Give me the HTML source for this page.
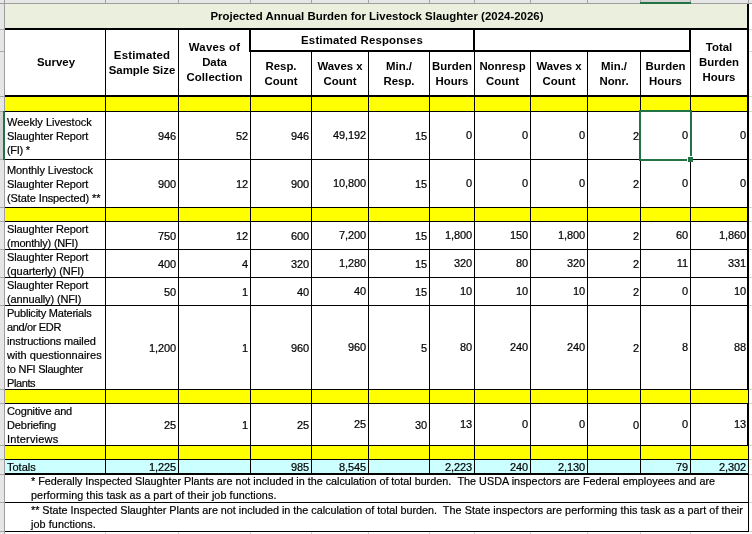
<!DOCTYPE html>
<html><head><meta charset="utf-8"><title>Projected Annual Burden for Livestock Slaughter</title><style>
*{margin:0;padding:0;box-sizing:border-box}
html,body{width:752px;height:534px;overflow:hidden;background:#fff}
body{position:relative;-webkit-text-stroke:0.2px #000;font-family:"Liberation Sans",Arial,sans-serif;color:#000}
.r{position:absolute}
.t{position:absolute;display:flex;white-space:nowrap;overflow:visible}
.hb{-webkit-text-stroke:0;font-weight:bold;font-size:11.4px;line-height:15px}
.d{font-size:11px;line-height:14px}
.n{letter-spacing:-0.12px}
.f{font-size:10.8px;line-height:14px}
.s{position:absolute;white-space:nowrap;height:14px}
</style></head>
<body>
<div class="r" style="left:0px;top:0px;width:752px;height:3px;background:#e6e6e6;"></div>
<div class="r" style="left:0px;top:3px;width:752px;height:1px;background:#9e9e9e;"></div>
<div class="r" style="left:4px;top:0px;width:1px;height:3px;background:#a2a2a2;"></div>
<div class="r" style="left:105px;top:0px;width:1px;height:3px;background:#a2a2a2;"></div>
<div class="r" style="left:178px;top:0px;width:1px;height:3px;background:#a2a2a2;"></div>
<div class="r" style="left:250px;top:0px;width:1px;height:3px;background:#a2a2a2;"></div>
<div class="r" style="left:311px;top:0px;width:1px;height:3px;background:#a2a2a2;"></div>
<div class="r" style="left:368px;top:0px;width:1px;height:3px;background:#a2a2a2;"></div>
<div class="r" style="left:429px;top:0px;width:1px;height:3px;background:#a2a2a2;"></div>
<div class="r" style="left:474px;top:0px;width:1px;height:3px;background:#a2a2a2;"></div>
<div class="r" style="left:530px;top:0px;width:1px;height:3px;background:#a2a2a2;"></div>
<div class="r" style="left:587px;top:0px;width:1px;height:3px;background:#a2a2a2;"></div>
<div class="r" style="left:640px;top:0px;width:1px;height:3px;background:#a2a2a2;"></div>
<div class="r" style="left:690px;top:0px;width:1px;height:3px;background:#a2a2a2;"></div>
<div class="r" style="left:748px;top:0px;width:1px;height:3px;background:#a2a2a2;"></div>
<div class="r" style="left:641px;top:0px;width:49px;height:2px;background:#d2d2d2;"></div>
<div class="r" style="left:640px;top:2px;width:51px;height:2px;background:#217346;"></div>
<div class="r" style="left:0px;top:4px;width:4px;height:530px;background:#e6e6e6;"></div>
<div class="r" style="left:4px;top:0px;width:1px;height:534px;background:#9e9e9e;"></div>
<div class="r" style="left:0px;top:29px;width:4px;height:1px;background:#a8a8a8;"></div>
<div class="r" style="left:0px;top:51px;width:4px;height:1px;background:#a8a8a8;"></div>
<div class="r" style="left:0px;top:96px;width:4px;height:1px;background:#a8a8a8;"></div>
<div class="r" style="left:0px;top:111px;width:4px;height:1px;background:#a8a8a8;"></div>
<div class="r" style="left:0px;top:159px;width:4px;height:1px;background:#a8a8a8;"></div>
<div class="r" style="left:0px;top:207px;width:4px;height:1px;background:#a8a8a8;"></div>
<div class="r" style="left:0px;top:221px;width:4px;height:1px;background:#a8a8a8;"></div>
<div class="r" style="left:0px;top:249px;width:4px;height:1px;background:#a8a8a8;"></div>
<div class="r" style="left:0px;top:277px;width:4px;height:1px;background:#a8a8a8;"></div>
<div class="r" style="left:0px;top:305px;width:4px;height:1px;background:#a8a8a8;"></div>
<div class="r" style="left:0px;top:389px;width:4px;height:1px;background:#a8a8a8;"></div>
<div class="r" style="left:0px;top:403px;width:4px;height:1px;background:#a8a8a8;"></div>
<div class="r" style="left:0px;top:445px;width:4px;height:1px;background:#a8a8a8;"></div>
<div class="r" style="left:0px;top:459px;width:4px;height:1px;background:#a8a8a8;"></div>
<div class="r" style="left:0px;top:474px;width:4px;height:1px;background:#a8a8a8;"></div>
<div class="r" style="left:0px;top:502px;width:4px;height:1px;background:#a8a8a8;"></div>
<div class="r" style="left:0px;top:531px;width:4px;height:1px;background:#a8a8a8;"></div>
<div class="r" style="left:0px;top:112px;width:3px;height:47px;background:#d2d2d2;"></div>
<div class="r" style="left:3px;top:111px;width:2px;height:49px;background:#217346;"></div>
<div class="r" style="left:749px;top:29px;width:3px;height:1px;background:#d4d4d4;"></div>
<div class="r" style="left:749px;top:51px;width:3px;height:1px;background:#d4d4d4;"></div>
<div class="r" style="left:749px;top:96px;width:3px;height:1px;background:#d4d4d4;"></div>
<div class="r" style="left:749px;top:111px;width:3px;height:1px;background:#d4d4d4;"></div>
<div class="r" style="left:749px;top:159px;width:3px;height:1px;background:#d4d4d4;"></div>
<div class="r" style="left:749px;top:207px;width:3px;height:1px;background:#d4d4d4;"></div>
<div class="r" style="left:749px;top:221px;width:3px;height:1px;background:#d4d4d4;"></div>
<div class="r" style="left:749px;top:249px;width:3px;height:1px;background:#d4d4d4;"></div>
<div class="r" style="left:749px;top:277px;width:3px;height:1px;background:#d4d4d4;"></div>
<div class="r" style="left:749px;top:305px;width:3px;height:1px;background:#d4d4d4;"></div>
<div class="r" style="left:749px;top:389px;width:3px;height:1px;background:#d4d4d4;"></div>
<div class="r" style="left:749px;top:403px;width:3px;height:1px;background:#d4d4d4;"></div>
<div class="r" style="left:749px;top:445px;width:3px;height:1px;background:#d4d4d4;"></div>
<div class="r" style="left:749px;top:459px;width:3px;height:1px;background:#d4d4d4;"></div>
<div class="r" style="left:749px;top:474px;width:3px;height:1px;background:#d4d4d4;"></div>
<div class="r" style="left:749px;top:502px;width:3px;height:1px;background:#d4d4d4;"></div>
<div class="r" style="left:749px;top:531px;width:3px;height:1px;background:#d4d4d4;"></div>
<div class="r" style="left:105px;top:532px;width:1px;height:2px;background:#d4d4d4;"></div>
<div class="r" style="left:178px;top:532px;width:1px;height:2px;background:#d4d4d4;"></div>
<div class="r" style="left:250px;top:532px;width:1px;height:2px;background:#d4d4d4;"></div>
<div class="r" style="left:311px;top:532px;width:1px;height:2px;background:#d4d4d4;"></div>
<div class="r" style="left:368px;top:532px;width:1px;height:2px;background:#d4d4d4;"></div>
<div class="r" style="left:429px;top:532px;width:1px;height:2px;background:#d4d4d4;"></div>
<div class="r" style="left:474px;top:532px;width:1px;height:2px;background:#d4d4d4;"></div>
<div class="r" style="left:530px;top:532px;width:1px;height:2px;background:#d4d4d4;"></div>
<div class="r" style="left:587px;top:532px;width:1px;height:2px;background:#d4d4d4;"></div>
<div class="r" style="left:640px;top:532px;width:1px;height:2px;background:#d4d4d4;"></div>
<div class="r" style="left:690px;top:532px;width:1px;height:2px;background:#d4d4d4;"></div>
<div class="r" style="left:5px;top:4px;width:742px;height:24px;background:#ebefdd;"></div>
<div class="t hb" style="left:6px;top:4px;width:742px;height:24px;justify-content:center;align-items:center;text-align:center;"><span><span style="letter-spacing:0.03px">Projected Annual Burden for Livestock Slaughter (2024-2026)</span></span></div>
<div class="r" style="left:5px;top:97px;width:742px;height:14px;background:#ffff00;"></div>
<div class="r" style="left:5px;top:208px;width:742px;height:13px;background:#ffff00;"></div>
<div class="r" style="left:5px;top:390px;width:743px;height:13px;background:#ffff00;"></div>
<div class="r" style="left:5px;top:446px;width:743px;height:13px;background:#ffff00;"></div>
<div class="r" style="left:5px;top:460px;width:743px;height:13px;background:#ccffff;"></div>
<div class="r" style="left:5px;top:28px;width:744px;height:2px;background:#000;"></div>
<div class="r" style="left:249px;top:50px;width:442px;height:2px;background:#000;"></div>
<div class="r" style="left:5px;top:95px;width:744px;height:2px;background:#000;"></div>
<div class="r" style="left:5px;top:111px;width:743px;height:1px;background:#000;"></div>
<div class="r" style="left:5px;top:159px;width:743px;height:1px;background:#000;"></div>
<div class="r" style="left:5px;top:207px;width:743px;height:1px;background:#000;"></div>
<div class="r" style="left:5px;top:221px;width:743px;height:1px;background:#000;"></div>
<div class="r" style="left:5px;top:249px;width:743px;height:1px;background:#000;"></div>
<div class="r" style="left:5px;top:277px;width:743px;height:1px;background:#000;"></div>
<div class="r" style="left:5px;top:305px;width:743px;height:1px;background:#000;"></div>
<div class="r" style="left:5px;top:389px;width:743px;height:1px;background:#000;"></div>
<div class="r" style="left:5px;top:403px;width:743px;height:1px;background:#000;"></div>
<div class="r" style="left:5px;top:445px;width:743px;height:1px;background:#000;"></div>
<div class="r" style="left:5px;top:459px;width:743px;height:1px;background:#000;"></div>
<div class="r" style="left:5px;top:473px;width:744px;height:2px;background:#000;"></div>
<div class="r" style="left:5px;top:502px;width:744px;height:1px;background:#000;"></div>
<div class="r" style="left:5px;top:531px;width:744px;height:1px;background:#000;"></div>
<div class="r" style="left:747px;top:4px;width:2px;height:386px;background:#000;"></div>
<div class="r" style="left:748px;top:390px;width:1px;height:13px;background:#000;"></div>
<div class="r" style="left:747px;top:403px;width:2px;height:43px;background:#000;"></div>
<div class="r" style="left:748px;top:446px;width:1px;height:86px;background:#000;"></div>
<div class="r" style="left:747px;top:459px;width:1px;height:1px;background:#000;"></div>
<div class="r" style="left:105px;top:30px;width:1px;height:65px;background:#000;"></div>
<div class="r" style="left:178px;top:30px;width:1px;height:65px;background:#000;"></div>
<div class="r" style="left:249px;top:30px;width:2px;height:21px;background:#000;"></div>
<div class="r" style="left:250px;top:52px;width:1px;height:43px;background:#000;"></div>
<div class="r" style="left:311px;top:52px;width:1px;height:43px;background:#000;"></div>
<div class="r" style="left:368px;top:52px;width:1px;height:43px;background:#000;"></div>
<div class="r" style="left:429px;top:52px;width:1px;height:43px;background:#000;"></div>
<div class="r" style="left:530px;top:52px;width:1px;height:43px;background:#000;"></div>
<div class="r" style="left:587px;top:52px;width:1px;height:43px;background:#000;"></div>
<div class="r" style="left:640px;top:52px;width:1px;height:43px;background:#000;"></div>
<div class="r" style="left:473px;top:30px;width:2px;height:21px;background:#000;"></div>
<div class="r" style="left:474px;top:52px;width:1px;height:43px;background:#000;"></div>
<div class="r" style="left:689px;top:30px;width:2px;height:21px;background:#000;"></div>
<div class="r" style="left:690px;top:52px;width:1px;height:43px;background:#000;"></div>
<div class="r" style="left:105px;top:97px;width:1px;height:362px;background:#000;"></div>
<div class="r" style="left:178px;top:97px;width:1px;height:362px;background:#000;"></div>
<div class="r" style="left:250px;top:97px;width:1px;height:362px;background:#000;"></div>
<div class="r" style="left:311px;top:97px;width:1px;height:362px;background:#000;"></div>
<div class="r" style="left:368px;top:97px;width:1px;height:362px;background:#000;"></div>
<div class="r" style="left:429px;top:97px;width:1px;height:362px;background:#000;"></div>
<div class="r" style="left:474px;top:97px;width:1px;height:362px;background:#000;"></div>
<div class="r" style="left:530px;top:97px;width:1px;height:362px;background:#000;"></div>
<div class="r" style="left:587px;top:97px;width:1px;height:362px;background:#000;"></div>
<div class="r" style="left:640px;top:97px;width:1px;height:362px;background:#000;"></div>
<div class="r" style="left:690px;top:97px;width:1px;height:362px;background:#000;"></div>
<div class="r" style="left:105px;top:460px;width:1px;height:13px;background:#000;"></div>
<div class="r" style="left:178px;top:460px;width:1px;height:13px;background:#000;"></div>
<div class="r" style="left:250px;top:460px;width:1px;height:13px;background:#000;"></div>
<div class="r" style="left:311px;top:460px;width:1px;height:13px;background:#000;"></div>
<div class="r" style="left:368px;top:460px;width:1px;height:13px;background:#000;"></div>
<div class="r" style="left:429px;top:460px;width:1px;height:13px;background:#000;"></div>
<div class="r" style="left:474px;top:460px;width:1px;height:13px;background:#000;"></div>
<div class="r" style="left:530px;top:460px;width:1px;height:13px;background:#000;"></div>
<div class="r" style="left:587px;top:460px;width:1px;height:13px;background:#000;"></div>
<div class="r" style="left:640px;top:460px;width:1px;height:13px;background:#000;"></div>
<div class="r" style="left:690px;top:460px;width:1px;height:13px;background:#000;"></div>
<div class="t hb" style="left:6px;top:30px;width:100px;height:65px;justify-content:center;align-items:center;text-align:center;"><span>Survey</span></div>
<div class="t hb" style="left:106px;top:30px;width:72px;height:65px;justify-content:center;align-items:center;text-align:center;"><span><span style="letter-spacing:0.2px">Estimated</span><br>Sample Size</span></div>
<div class="t hb" style="left:179px;top:30px;width:71px;height:65px;justify-content:center;align-items:center;text-align:center;"><span><span style="letter-spacing:0.24px">Waves of</span><br>Data<br><span style="letter-spacing:0.1px">Collection</span></span></div>
<div class="t hb" style="left:251px;top:30px;width:222px;height:20px;justify-content:center;align-items:center;text-align:center;"><span><span style="letter-spacing:0.18px">Estimated Responses</span></span></div>
<div class="t hb" style="left:251px;top:52px;width:60px;height:43px;justify-content:center;align-items:center;text-align:center;"><span>Resp.<br>Count</span></div>
<div class="t hb" style="left:312px;top:52px;width:56px;height:43px;justify-content:center;align-items:center;text-align:center;"><span>Waves x<br>Count</span></div>
<div class="t hb" style="left:369px;top:52px;width:60px;height:43px;justify-content:center;align-items:center;text-align:center;"><span>Min./<br>Resp.</span></div>
<div class="t hb" style="left:430px;top:52px;width:44px;height:43px;justify-content:center;align-items:center;text-align:center;"><span>Burden<br>Hours</span></div>
<div class="t hb" style="left:475px;top:52px;width:55px;height:43px;justify-content:center;align-items:center;text-align:center;"><span>Nonresp<br>Count</span></div>
<div class="t hb" style="left:531px;top:52px;width:56px;height:43px;justify-content:center;align-items:center;text-align:center;"><span>Waves x<br>Count</span></div>
<div class="t hb" style="left:588px;top:52px;width:52px;height:43px;justify-content:center;align-items:center;text-align:center;"><span>Min./<br>Nonr.</span></div>
<div class="t hb" style="left:641px;top:52px;width:49px;height:43px;justify-content:center;align-items:center;text-align:center;"><span>Burden<br>Hours</span></div>
<div class="t hb" style="left:691px;top:30px;width:56px;height:65px;justify-content:center;align-items:center;text-align:center;"><span>Total<br>Burden<br>Hours</span></div>
<div class="t d" style="left:7px;top:112px;width:98px;height:47px;justify-content:flex-start;align-items:center;text-align:left;"><span>Weekly Livestock<br><span style="letter-spacing:-0.12px">Slaughter Report</span><br><span style="letter-spacing:-0.3px">(FI) *</span></span></div>
<div class="t d n" style="left:106px;top:112px;width:70px;height:47px;justify-content:flex-end;align-items:center;text-align:right;"><span>946</span></div>
<div class="t d n" style="left:179px;top:112px;width:69px;height:47px;justify-content:flex-end;align-items:center;text-align:right;"><span>52</span></div>
<div class="t d n" style="left:251px;top:112px;width:58px;height:47px;justify-content:flex-end;align-items:center;text-align:right;"><span>946</span></div>
<div class="t d n" style="left:312px;top:111px;width:54px;height:47px;justify-content:flex-end;align-items:center;text-align:right;"><span>49,192</span></div>
<div class="t d n" style="left:369px;top:112px;width:58px;height:47px;justify-content:flex-end;align-items:center;text-align:right;padding-top:1px;"><span>15</span></div>
<div class="t d n" style="left:430px;top:111px;width:42px;height:47px;justify-content:flex-end;align-items:center;text-align:right;"><span>0</span></div>
<div class="t d n" style="left:475px;top:111px;width:53px;height:47px;justify-content:flex-end;align-items:center;text-align:right;"><span>0</span></div>
<div class="t d n" style="left:531px;top:111px;width:54px;height:47px;justify-content:flex-end;align-items:center;text-align:right;"><span>0</span></div>
<div class="t d n" style="left:588px;top:112px;width:51px;height:47px;justify-content:flex-end;align-items:center;text-align:right;padding-top:1px;"><span>2</span></div>
<div class="t d n" style="left:641px;top:111px;width:47px;height:47px;justify-content:flex-end;align-items:center;text-align:right;"><span>0</span></div>
<div class="t d n" style="left:691px;top:111px;width:55px;height:47px;justify-content:flex-end;align-items:center;text-align:right;"><span>0</span></div>
<div class="t d" style="left:7px;top:160px;width:98px;height:47px;justify-content:flex-start;align-items:center;text-align:left;"><span><span style="letter-spacing:-0.09px">Monthly Livestock</span><br><span style="letter-spacing:-0.12px">Slaughter Report</span><br><span style="letter-spacing:-0.1px">(State Inspected) **</span></span></div>
<div class="t d n" style="left:106px;top:160px;width:70px;height:47px;justify-content:flex-end;align-items:center;text-align:right;"><span>900</span></div>
<div class="t d n" style="left:179px;top:160px;width:69px;height:47px;justify-content:flex-end;align-items:center;text-align:right;"><span>12</span></div>
<div class="t d n" style="left:251px;top:160px;width:58px;height:47px;justify-content:flex-end;align-items:center;text-align:right;"><span>900</span></div>
<div class="t d n" style="left:312px;top:159px;width:54px;height:47px;justify-content:flex-end;align-items:center;text-align:right;"><span>10,800</span></div>
<div class="t d n" style="left:369px;top:160px;width:58px;height:47px;justify-content:flex-end;align-items:center;text-align:right;padding-top:1px;"><span>15</span></div>
<div class="t d n" style="left:430px;top:159px;width:42px;height:47px;justify-content:flex-end;align-items:center;text-align:right;"><span>0</span></div>
<div class="t d n" style="left:475px;top:159px;width:53px;height:47px;justify-content:flex-end;align-items:center;text-align:right;"><span>0</span></div>
<div class="t d n" style="left:531px;top:159px;width:54px;height:47px;justify-content:flex-end;align-items:center;text-align:right;"><span>0</span></div>
<div class="t d n" style="left:588px;top:160px;width:51px;height:47px;justify-content:flex-end;align-items:center;text-align:right;padding-top:1px;"><span>2</span></div>
<div class="t d n" style="left:641px;top:159px;width:47px;height:47px;justify-content:flex-end;align-items:center;text-align:right;"><span>0</span></div>
<div class="t d n" style="left:691px;top:159px;width:55px;height:47px;justify-content:flex-end;align-items:center;text-align:right;"><span>0</span></div>
<div class="t d" style="left:7px;top:222px;width:98px;height:27px;justify-content:flex-start;align-items:center;text-align:left;"><span><span style="letter-spacing:-0.12px">Slaughter Report</span><br><span style="letter-spacing:-0.2px">(monthly) (NFI)</span></span></div>
<div class="t d n" style="left:106px;top:222px;width:70px;height:27px;justify-content:flex-end;align-items:center;text-align:right;"><span>750</span></div>
<div class="t d n" style="left:179px;top:222px;width:69px;height:27px;justify-content:flex-end;align-items:center;text-align:right;"><span>12</span></div>
<div class="t d n" style="left:251px;top:222px;width:58px;height:27px;justify-content:flex-end;align-items:center;text-align:right;"><span>600</span></div>
<div class="t d n" style="left:312px;top:221px;width:54px;height:27px;justify-content:flex-end;align-items:center;text-align:right;"><span>7,200</span></div>
<div class="t d n" style="left:369px;top:222px;width:58px;height:27px;justify-content:flex-end;align-items:center;text-align:right;padding-top:1px;"><span>15</span></div>
<div class="t d n" style="left:430px;top:221px;width:42px;height:27px;justify-content:flex-end;align-items:center;text-align:right;"><span>1,800</span></div>
<div class="t d n" style="left:475px;top:221px;width:53px;height:27px;justify-content:flex-end;align-items:center;text-align:right;"><span>150</span></div>
<div class="t d n" style="left:531px;top:221px;width:54px;height:27px;justify-content:flex-end;align-items:center;text-align:right;"><span>1,800</span></div>
<div class="t d n" style="left:588px;top:222px;width:51px;height:27px;justify-content:flex-end;align-items:center;text-align:right;padding-top:1px;"><span>2</span></div>
<div class="t d n" style="left:641px;top:221px;width:47px;height:27px;justify-content:flex-end;align-items:center;text-align:right;"><span>60</span></div>
<div class="t d n" style="left:691px;top:221px;width:55px;height:27px;justify-content:flex-end;align-items:center;text-align:right;"><span>1,860</span></div>
<div class="t d" style="left:7px;top:250px;width:98px;height:27px;justify-content:flex-start;align-items:center;text-align:left;"><span><span style="letter-spacing:-0.12px">Slaughter Report</span><br><span style="letter-spacing:-0.08px">(quarterly) (NFI)</span></span></div>
<div class="t d n" style="left:106px;top:250px;width:70px;height:27px;justify-content:flex-end;align-items:center;text-align:right;"><span>400</span></div>
<div class="t d n" style="left:179px;top:250px;width:69px;height:27px;justify-content:flex-end;align-items:center;text-align:right;"><span>4</span></div>
<div class="t d n" style="left:251px;top:250px;width:58px;height:27px;justify-content:flex-end;align-items:center;text-align:right;"><span>320</span></div>
<div class="t d n" style="left:312px;top:249px;width:54px;height:27px;justify-content:flex-end;align-items:center;text-align:right;"><span>1,280</span></div>
<div class="t d n" style="left:369px;top:250px;width:58px;height:27px;justify-content:flex-end;align-items:center;text-align:right;padding-top:1px;"><span>15</span></div>
<div class="t d n" style="left:430px;top:249px;width:42px;height:27px;justify-content:flex-end;align-items:center;text-align:right;"><span>320</span></div>
<div class="t d n" style="left:475px;top:249px;width:53px;height:27px;justify-content:flex-end;align-items:center;text-align:right;"><span>80</span></div>
<div class="t d n" style="left:531px;top:249px;width:54px;height:27px;justify-content:flex-end;align-items:center;text-align:right;"><span>320</span></div>
<div class="t d n" style="left:588px;top:250px;width:51px;height:27px;justify-content:flex-end;align-items:center;text-align:right;padding-top:1px;"><span>2</span></div>
<div class="t d n" style="left:641px;top:249px;width:47px;height:27px;justify-content:flex-end;align-items:center;text-align:right;"><span>11</span></div>
<div class="t d n" style="left:691px;top:249px;width:55px;height:27px;justify-content:flex-end;align-items:center;text-align:right;"><span>331</span></div>
<div class="t d" style="left:7px;top:278px;width:98px;height:27px;justify-content:flex-start;align-items:center;text-align:left;"><span><span style="letter-spacing:-0.12px">Slaughter Report</span><br><span style="letter-spacing:-0.13px">(annually) (NFI)</span></span></div>
<div class="t d n" style="left:106px;top:278px;width:70px;height:27px;justify-content:flex-end;align-items:center;text-align:right;"><span>50</span></div>
<div class="t d n" style="left:179px;top:278px;width:69px;height:27px;justify-content:flex-end;align-items:center;text-align:right;"><span>1</span></div>
<div class="t d n" style="left:251px;top:278px;width:58px;height:27px;justify-content:flex-end;align-items:center;text-align:right;"><span>40</span></div>
<div class="t d n" style="left:312px;top:277px;width:54px;height:27px;justify-content:flex-end;align-items:center;text-align:right;"><span>40</span></div>
<div class="t d n" style="left:369px;top:278px;width:58px;height:27px;justify-content:flex-end;align-items:center;text-align:right;padding-top:1px;"><span>15</span></div>
<div class="t d n" style="left:430px;top:277px;width:42px;height:27px;justify-content:flex-end;align-items:center;text-align:right;"><span>10</span></div>
<div class="t d n" style="left:475px;top:277px;width:53px;height:27px;justify-content:flex-end;align-items:center;text-align:right;"><span>10</span></div>
<div class="t d n" style="left:531px;top:277px;width:54px;height:27px;justify-content:flex-end;align-items:center;text-align:right;"><span>10</span></div>
<div class="t d n" style="left:588px;top:278px;width:51px;height:27px;justify-content:flex-end;align-items:center;text-align:right;padding-top:1px;"><span>2</span></div>
<div class="t d n" style="left:641px;top:277px;width:47px;height:27px;justify-content:flex-end;align-items:center;text-align:right;"><span>0</span></div>
<div class="t d n" style="left:691px;top:277px;width:55px;height:27px;justify-content:flex-end;align-items:center;text-align:right;"><span>10</span></div>
<div class="t d" style="left:7px;top:306px;width:98px;height:83px;justify-content:flex-start;align-items:center;text-align:left;"><span><span style="letter-spacing:-0.22px">Publicity Materials</span><br><span style="letter-spacing:-0.34px">and/or EDR</span><br><span style="letter-spacing:-0.13px">instructions mailed</span><br><span style="letter-spacing:0.03px">with questionnaires</span><br><span style="letter-spacing:-0.26px">to NFI Slaughter</span><br><span style="letter-spacing:-0.4px">Plants</span></span></div>
<div class="t d n" style="left:106px;top:306px;width:70px;height:83px;justify-content:flex-end;align-items:center;text-align:right;"><span>1,200</span></div>
<div class="t d n" style="left:179px;top:306px;width:69px;height:83px;justify-content:flex-end;align-items:center;text-align:right;"><span>1</span></div>
<div class="t d n" style="left:251px;top:306px;width:58px;height:83px;justify-content:flex-end;align-items:center;text-align:right;"><span>960</span></div>
<div class="t d n" style="left:312px;top:305px;width:54px;height:83px;justify-content:flex-end;align-items:center;text-align:right;"><span>960</span></div>
<div class="t d n" style="left:369px;top:306px;width:58px;height:83px;justify-content:flex-end;align-items:center;text-align:right;padding-top:1px;"><span>5</span></div>
<div class="t d n" style="left:430px;top:305px;width:42px;height:83px;justify-content:flex-end;align-items:center;text-align:right;"><span>80</span></div>
<div class="t d n" style="left:475px;top:305px;width:53px;height:83px;justify-content:flex-end;align-items:center;text-align:right;"><span>240</span></div>
<div class="t d n" style="left:531px;top:305px;width:54px;height:83px;justify-content:flex-end;align-items:center;text-align:right;"><span>240</span></div>
<div class="t d n" style="left:588px;top:306px;width:51px;height:83px;justify-content:flex-end;align-items:center;text-align:right;padding-top:1px;"><span>2</span></div>
<div class="t d n" style="left:641px;top:305px;width:47px;height:83px;justify-content:flex-end;align-items:center;text-align:right;"><span>8</span></div>
<div class="t d n" style="left:691px;top:305px;width:55px;height:83px;justify-content:flex-end;align-items:center;text-align:right;"><span>88</span></div>
<div class="t d" style="left:7px;top:404px;width:98px;height:41px;justify-content:flex-start;align-items:center;text-align:left;"><span><span style="letter-spacing:-0.17px">Cognitive and</span><br><span style="letter-spacing:-0.1px">Debriefing</span><br><span style="letter-spacing:0.18px">Interviews</span></span></div>
<div class="t d n" style="left:106px;top:404px;width:70px;height:41px;justify-content:flex-end;align-items:center;text-align:right;"><span>25</span></div>
<div class="t d n" style="left:179px;top:404px;width:69px;height:41px;justify-content:flex-end;align-items:center;text-align:right;"><span>1</span></div>
<div class="t d n" style="left:251px;top:404px;width:58px;height:41px;justify-content:flex-end;align-items:center;text-align:right;"><span>25</span></div>
<div class="t d n" style="left:312px;top:403px;width:54px;height:41px;justify-content:flex-end;align-items:center;text-align:right;"><span>25</span></div>
<div class="t d n" style="left:369px;top:404px;width:58px;height:41px;justify-content:flex-end;align-items:center;text-align:right;padding-top:1px;"><span>30</span></div>
<div class="t d n" style="left:430px;top:403px;width:42px;height:41px;justify-content:flex-end;align-items:center;text-align:right;"><span>13</span></div>
<div class="t d n" style="left:475px;top:403px;width:53px;height:41px;justify-content:flex-end;align-items:center;text-align:right;"><span>0</span></div>
<div class="t d n" style="left:531px;top:403px;width:54px;height:41px;justify-content:flex-end;align-items:center;text-align:right;"><span>0</span></div>
<div class="t d n" style="left:588px;top:404px;width:51px;height:41px;justify-content:flex-end;align-items:center;text-align:right;padding-top:1px;"><span>0</span></div>
<div class="t d n" style="left:641px;top:403px;width:47px;height:41px;justify-content:flex-end;align-items:center;text-align:right;"><span>0</span></div>
<div class="t d n" style="left:691px;top:403px;width:55px;height:41px;justify-content:flex-end;align-items:center;text-align:right;"><span>13</span></div>
<div class="t d" style="left:7px;top:460px;width:98px;height:13px;justify-content:flex-start;align-items:center;text-align:left;"><span>Totals</span></div>
<div class="t d n" style="left:106px;top:460px;width:70px;height:13px;justify-content:flex-end;align-items:center;text-align:right;"><span>1,225</span></div>
<div class="t d n" style="left:251px;top:460px;width:58px;height:13px;justify-content:flex-end;align-items:center;text-align:right;"><span>985</span></div>
<div class="t d n" style="left:312px;top:460px;width:54px;height:13px;justify-content:flex-end;align-items:center;text-align:right;"><span>8,545</span></div>
<div class="t d n" style="left:369px;top:460px;width:103px;height:13px;justify-content:flex-end;align-items:center;text-align:right;"><span>2,223</span></div>
<div class="t d n" style="left:475px;top:460px;width:53px;height:13px;justify-content:flex-end;align-items:center;text-align:right;"><span>240</span></div>
<div class="t d n" style="left:531px;top:460px;width:54px;height:13px;justify-content:flex-end;align-items:center;text-align:right;"><span>2,130</span></div>
<div class="t d n" style="left:588px;top:460px;width:100px;height:13px;justify-content:flex-end;align-items:center;text-align:right;"><span>79</span></div>
<div class="t d n" style="left:691px;top:460px;width:55px;height:13px;justify-content:flex-end;align-items:center;text-align:right;"><span>2,302</span></div>
<div class="s f" style="left:31px;top:474px;letter-spacing:-0.02px;">* Federally Inspected Slaughter Plants are not included in the calculation of total burden.</div>
<div class="s f" style="left:457.4px;top:474px;letter-spacing:0.03px;">The USDA inspectors are Federal employees and are</div>
<div class="s f" style="left:31px;top:488px;letter-spacing:0.067px;">performing this task as a part of their job functions.</div>
<div class="s f" style="left:31px;top:503px;letter-spacing:-0.01px;">** State Inspected Slaughter Plants are not included in the calculation of total burden.</div>
<div class="s f" style="left:442.8px;top:503px;letter-spacing:0.066px;">The State inspectors are performing this task as a part of their</div>
<div class="s f" style="left:31px;top:517px;letter-spacing:0.08px;">job functions.</div>
<div class="r" style="left:639px;top:110px;width:53px;height:2px;background:#217346;"></div>
<div class="r" style="left:639px;top:110px;width:2px;height:51px;background:#217346;"></div>
<div class="r" style="left:639px;top:159px;width:48px;height:2px;background:#217346;"></div>
<div class="r" style="left:690px;top:110px;width:2px;height:46px;background:#217346;"></div>
<div class="r" style="left:687px;top:156px;width:6px;height:1px;background:#fff;"></div>
<div class="r" style="left:687px;top:156px;width:1px;height:6px;background:#fff;"></div>
<div class="r" style="left:688px;top:157px;width:5px;height:5px;background:#217346;"></div>
</body></html>
